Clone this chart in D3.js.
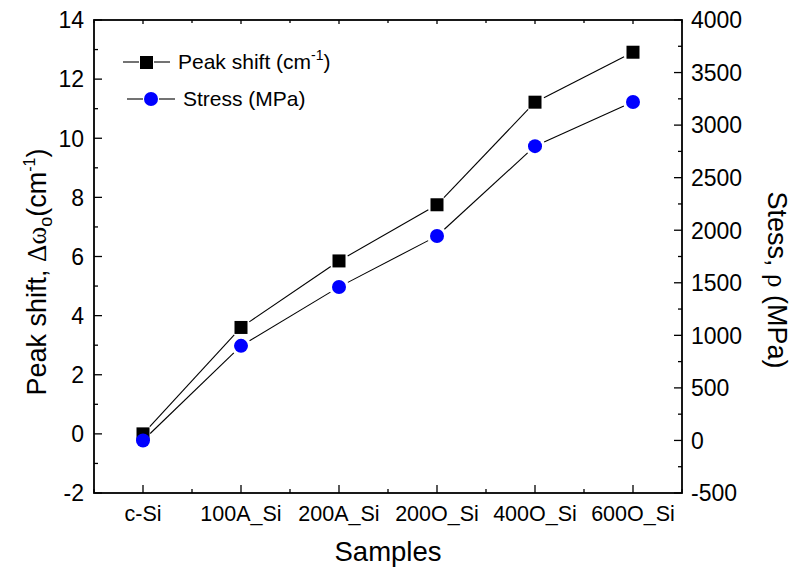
<!DOCTYPE html>
<meta charset="utf-8">
<title>Peak shift and stress</title>
<script src="https://d3js.org/d3.v7.min.js"></script>
<body style="margin:0; background:#fff;">
<div id="chart"></div>
</body>
<script>
samples = ["c-Si", "100A_Si", "200A_Si", "200O_Si", "400O_Si", "600O_Si"]
peakShift = [0.0, 3.6, 5.85, 7.75, 11.22, 12.91]
stress = [0, 900, 1460, 1945, 2800, 3220]
leftTicks = [-2, 0, 2, 4, 6, 8, 10, 12, 14]
rightTicks = [-500, 0, 500, 1000, 1500, 2000, 2500, 3000, 3500, 4000]

width = 796
height = 569
margin = {top: 20, right: 114, bottom: 76, left: 94}
font = "Liberation Sans, Arial, sans-serif"

svg = d3.select("#chart").append("svg")
    .attr("width", width)
    .attr("height", height)
    .style("font-family", font)

x = d3.scaleLinear().domain([-0.5, 5.5]).range([margin.left, width - margin.right])
yL = d3.scaleLinear().domain([-2, 14]).range([height - margin.bottom, margin.top])
yR = d3.scaleLinear().domain([-500, 4000]).range([height - margin.bottom, margin.top])

x0 = x.range()[0], x1 = x.range()[1]
y0 = yL.range()[0], y1 = yL.range()[1]

// ticks, all pointing inwards
ticks = svg.append("g").attr("stroke", "#000").attr("stroke-width", 1.3)
const idx = d3.range(samples.length)
const half = d3.range(samples.length + 1).map(i => i - 0.5)
idx.forEach(i => {
  ticks.append("line").attr("x1", x(i)).attr("x2", x(i)).attr("y1", y0).attr("y2", y0 - 8)
  ticks.append("line").attr("x1", x(i)).attr("x2", x(i)).attr("y1", y1).attr("y2", y1 + 4)
})
half.forEach(v => {
  ticks.append("line").attr("x1", x(v)).attr("x2", x(v)).attr("y1", y0).attr("y2", y0 - 4)
  ticks.append("line").attr("x1", x(v)).attr("x2", x(v)).attr("y1", y1).attr("y2", y1 + 3)
})
d3.range(-2, 15, 1).forEach(v => {
  const len = v % 2 === 0 ? 8 : 4
  ticks.append("line").attr("x1", x0).attr("x2", x0 + len).attr("y1", yL(v)).attr("y2", yL(v))
})
d3.range(-500, 4001, 250).forEach(v => {
  const len = v % 500 === 0 ? 8 : 4
  ticks.append("line").attr("x1", x1).attr("x2", x1 - len).attr("y1", yR(v)).attr("y2", yR(v))
})

// frame
svg.append("rect")
    .attr("x", x0).attr("y", y1)
    .attr("width", x1 - x0).attr("height", y0 - y1)
    .attr("fill", "none").attr("stroke", "#000").attr("stroke-width", 1.8)

// tick labels
svg.append("g").selectAll("text").data(leftTicks).join("text")
    .attr("x", x0 - 10).attr("y", d => yL(d)).attr("dy", "0.36em")
    .attr("text-anchor", "end").attr("font-size", 23).text(d => d)
svg.append("g").selectAll("text").data(rightTicks).join("text")
    .attr("x", x1 + 9).attr("y", d => yR(d)).attr("dy", "0.36em")
    .attr("text-anchor", "start").attr("font-size", 23).text(d => d)
svg.append("g").selectAll("text").data(samples).join("text")
    .attr("x", (d, i) => x(i)).attr("y", y0 + 28)
    .attr("text-anchor", "middle").attr("font-size", 21.5).text(d => d)

// axis titles
svg.append("text").attr("x", (x0 + x1) / 2).attr("y", 561)
    .attr("text-anchor", "middle").attr("font-size", 27.5).text("Samples")

const lt = svg.append("text").attr("transform", "translate(46,272) rotate(-90)")
    .attr("text-anchor", "middle").attr("font-size", 27)
lt.append("tspan").text("Peak shift, ")
lt.append("tspan").attr("font-family", "Liberation Serif, serif").text("Δω")
lt.append("tspan").attr("font-size", 18).attr("dy", 6).text("o")
lt.append("tspan").attr("dy", -6).text("(cm")
lt.append("tspan").attr("font-size", 16).attr("dy", -11).text("-1")
lt.append("tspan").attr("dy", 11).text(")")

const rt = svg.append("text").attr("transform", "translate(768,280) rotate(90)")
    .attr("text-anchor", "middle").attr("font-size", 27)
rt.append("tspan").text("Stess, ")
rt.append("tspan").attr("font-family", "Liberation Serif, serif").text("ρ")
rt.append("tspan").text(" (MPa)")

// connecting lines with gaps around symbols
function gappedSegments(g, pts, gap) {
  for (let i = 0; i < pts.length - 1; i++) {
    const [ax, ay] = pts[i], [bx, by] = pts[i + 1]
    const L = Math.hypot(bx - ax, by - ay)
    const ux = (bx - ax) / L, uy = (by - ay) / L
    g.append("line")
        .attr("x1", ax + ux * gap).attr("y1", ay + uy * gap)
        .attr("x2", bx - ux * gap).attr("y2", by - uy * gap)
  }
}

const lines = svg.append("g").attr("stroke", "#000").attr("stroke-width", 1.1)
gappedSegments(lines, peakShift.map((v, i) => [x(i), yL(v)]), 10)
gappedSegments(lines, stress.map((v, i) => [x(i), yR(v)]), 10)

svg.append("g").selectAll("rect").data(peakShift).join("rect")
    .attr("x", (d, i) => x(i) - 6.5).attr("y", d => yL(d) - 6.5)
    .attr("width", 13).attr("height", 13).attr("fill", "#000")
svg.append("g").selectAll("circle").data(stress).join("circle")
    .attr("cx", (d, i) => x(i)).attr("cy", d => yR(d)).attr("r", 7)
    .attr("fill", "#0000ff")

// legend
const lg = svg.append("g").attr("font-size", 21)
lg.append("g").attr("stroke", "#000").attr("stroke-width", 1.1).call(g => {
  g.append("line").attr("x1", 123).attr("x2", 139).attr("y1", 62).attr("y2", 62)
  g.append("line").attr("x1", 154).attr("x2", 170).attr("y1", 62).attr("y2", 62)
  g.append("line").attr("x1", 127).attr("x2", 143).attr("y1", 99).attr("y2", 99)
  g.append("line").attr("x1", 159).attr("x2", 175).attr("y1", 99).attr("y2", 99)
})
lg.append("rect").attr("x", 140).attr("y", 56).attr("width", 13).attr("height", 13).attr("fill", "#000")
lg.append("circle").attr("cx", 151).attr("cy", 99).attr("r", 7).attr("fill", "#0000ff")
const t1 = lg.append("text").attr("x", 178).attr("y", 69)
t1.append("tspan").text("Peak shift (cm")
t1.append("tspan").attr("font-size", 14).attr("dy", -9).text("-1")
t1.append("tspan").attr("dy", 9).text(")")
lg.append("text").attr("x", 183).attr("y", 106).text("Stress (MPa)")
</script>
